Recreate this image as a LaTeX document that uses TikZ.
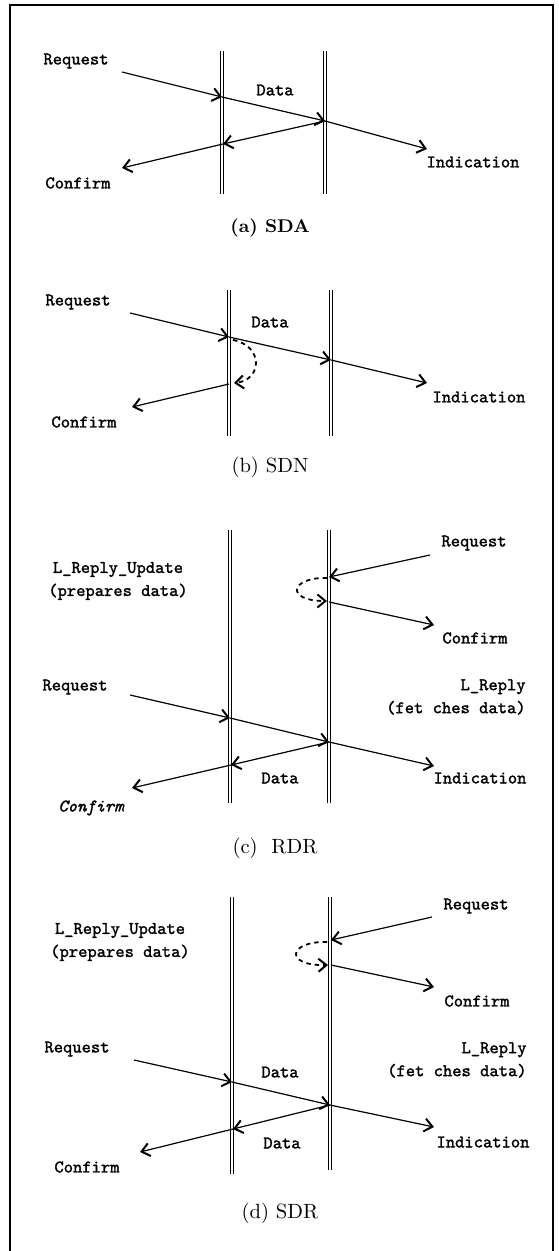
\documentclass[tikz,border=0pt]{standalone}
\usepackage{fontspec}
\newfontfamily\labelmono{lmmono10-regular}[Extension=.otf,FakeBold=1.6,ItalicFont=lmmono10-italic]
\usetikzlibrary{arrows.meta}
\begin{document}
\begin{tikzpicture}[x=0.5pt,y=-0.5pt,
  lifeline/.style={line width=0.5pt,double,double distance=0.6pt},
  tipped/.style={-{Straight Barb[length=4pt,width=6.5pt,line width=1pt]}},
  msg/.style={line width=0.6pt,tipped},
  loopmsg/.style={line width=0.9pt,dash pattern=on 2.2pt off 2pt,tipped},
  lbl/.style={font=\fontsize{8.85}{11.5}\selectfont\labelmono,inner sep=0pt},
  captext/.style={font=\fontsize{10.3}{12}\selectfont,inner sep=0pt},
  framestyle/.style={line width=0.8pt}]
\useasboundingbox (0,0) rectangle (558,1251);
% frame
\coordinate (f1) at (10,1251);
\coordinate (f2) at (10,5);
\coordinate (f3) at (553,5);
\coordinate (f4) at (553,1251);
\draw[framestyle] (f1) -- (f2) -- (f3) -- (f4);

% ---------------- (a) SDA ----------------
\coordinate (a1t) at (222,51); \coordinate (a1b) at (222,194);
\coordinate (a2t) at (325,51); \coordinate (a2b) at (325,194);
\draw[lifeline] (a1t) -- (a1b);
\draw[lifeline] (a2t) -- (a2b);
\coordinate (aRqS) at (122,72);
\coordinate (aL1) at (222,97);
\coordinate (aR1) at (325,121);
\coordinate (aInd) at (427,149);
\coordinate (aL2) at (223,144);
\coordinate (aCf) at (122,168);
\draw[msg] (aRqS) -- (aL1);
\draw[msg] (aL1) -- (aR1);
\draw[msg] (aR1) -- (aInd);
\draw[msg] (aR1) -- (aL2);
\draw[msg] (aL2) -- (aCf);
\node[lbl] (reqA) at (76,61) {Request};
\node[lbl] (dataA) at (275,90) {Data};
\node[lbl] (indA) at (473,162) {Indication};
\node[lbl] (confA) at (78,183) {Confirm};
\node[captext,font=\fontsize{9.2}{11}\selectfont\bfseries] (capA) at (270,228) {(a) SDA};

% ---------------- (b) SDN ----------------
\coordinate (b1t) at (229,290); \coordinate (b1b) at (229,436);
\coordinate (b2t) at (331,290); \coordinate (b2b) at (331,436);
\draw[lifeline] (b1t) -- (b1b);
\draw[lifeline] (b2t) -- (b2b);
\coordinate (bRqS) at (130,313);
\coordinate (bL1) at (229,337);
\coordinate (bR1) at (331,360);
\coordinate (bInd) at (427,383);
\coordinate (bL2) at (229,384);
\coordinate (bCf) at (132,407);
\coordinate (bLpS) at (233,340);
\coordinate (bLpE) at (234,383);
\draw[msg] (bRqS) -- (bL1);
\draw[msg] (bL1) -- (bR1);
\draw[msg] (bR1) -- (bInd);
\draw[msg] (bL2) -- (bCf);
\draw[loopmsg] (bLpS) .. controls (264,346) and (262,380) .. (bLpE);
\node[lbl] (reqB) at (78,302) {Request};
\node[lbl] (dataB) at (270,322) {Data};
\node[lbl] (indB) at (479,397) {Indication};
\node[lbl] (confB) at (84,422) {Confirm};
\node[captext] (capB) at (270,467) {(b) SDN};

% ---------------- (c) RDR ----------------
\coordinate (c1t) at (230,530); \coordinate (c1b) at (230,803);
\coordinate (c2t) at (329,530); \coordinate (c2b) at (329,803);
\draw[lifeline] (c1t) -- (c1b);
\draw[lifeline] (c2t) -- (c2b);
\coordinate (cRqRS) at (430,555);
\coordinate (cR1) at (329,577);
\coordinate (cR2) at (329,602);
\coordinate (cCfR) at (434,625);
\coordinate (cLpS) at (327,578);
\coordinate (cLpE) at (327,601);
\draw[msg] (cRqRS) -- (cR1);
\draw[loopmsg] (cLpS) .. controls (290,577) and (285,601) .. (cLpE);
\draw[msg] (cR2) -- (cCfR);
\coordinate (cRqS) at (130,695);
\coordinate (cL1) at (230,718);
\coordinate (cR3) at (329,742);
\coordinate (cInd) at (434,766);
\coordinate (cL2) at (231,765);
\coordinate (cCf) at (132,788);
\draw[msg] (cRqS) -- (cL1);
\draw[msg] (cL1) -- (cR3);
\draw[msg] (cR3) -- (cInd);
\draw[msg] (cR3) -- (cL2);
\draw[msg] (cL2) -- (cCf);
\node[lbl] (reqRC) at (474,543) {Request};
\node[lbl] (confRC) at (475,638) {Confirm};
\node[lbl,align=center] (updC) at (118,581) {L\_Reply\_Update\\(prepares data)};
\node[lbl] (reqC) at (75,687) {Request};
\node[lbl,align=right,anchor=east] (replyC) at (526,697) {L\_Reply\\(fet ches data)};
\node[lbl] (dataC) at (280,778) {Data};
\node[lbl] (indC) at (480,778) {Indication};
\node[lbl,font=\fontsize{8.85}{11.5}\selectfont\labelmono\itshape] (confC) at (91,808) {Confirm};
\node[captext] (capC) at (275,848) {(c)\ \ RDR};

% ---------------- (d) SDR ----------------
\coordinate (d1t) at (232,897); \coordinate (d1b) at (232,1174);
\coordinate (d2t) at (330,897); \coordinate (d2b) at (330,1170);
\draw[lifeline] (d1t) -- (d1b);
\draw[lifeline] (d2t) -- (d2b);
\coordinate (dRqRS) at (432,917);
\coordinate (dR1) at (331,940);
\coordinate (dR2) at (331,965);
\coordinate (dCfR) at (434,987);
\coordinate (dLpS) at (327,942);
\coordinate (dLpE) at (328,965);
\draw[msg] (dRqRS) -- (dR1);
\draw[loopmsg] (dLpS) .. controls (288,941) and (284,966) .. (dLpE);
\draw[msg] (dR2) -- (dCfR);
\coordinate (dRqS) at (134,1060);
\coordinate (dL1) at (232,1082);
\coordinate (dR3) at (330,1105);
\coordinate (dInd) at (434,1127);
\coordinate (dL2) at (233,1129);
\coordinate (dCf) at (140,1152);
\draw[msg] (dRqS) -- (dL1);
\draw[msg] (dL1) -- (dR3);
\draw[msg] (dR3) -- (dInd);
\draw[msg] (dR3) -- (dL2);
\draw[msg] (dL2) -- (dCf);
\node[lbl] (reqRD) at (476,906) {Request};
\node[lbl] (confRD) at (477,1001) {Confirm};
\node[lbl,align=center] (updD) at (120,942) {L\_Reply\_Update\\(prepares data)};
\node[lbl] (reqD) at (77,1049) {Request};
\node[lbl,align=right,anchor=east] (replyD) at (527,1060) {L\_Reply\\(fet ches data)};
\node[lbl] (dataD1) at (280,1072) {Data};
\node[lbl] (dataD2) at (282,1143) {Data};
\node[lbl] (indD) at (483,1142) {Indication};
\node[lbl] (confD) at (87,1167) {Confirm};
\node[captext] (capD) at (280,1213) {(d) SDR};
\end{tikzpicture}
\end{document}
